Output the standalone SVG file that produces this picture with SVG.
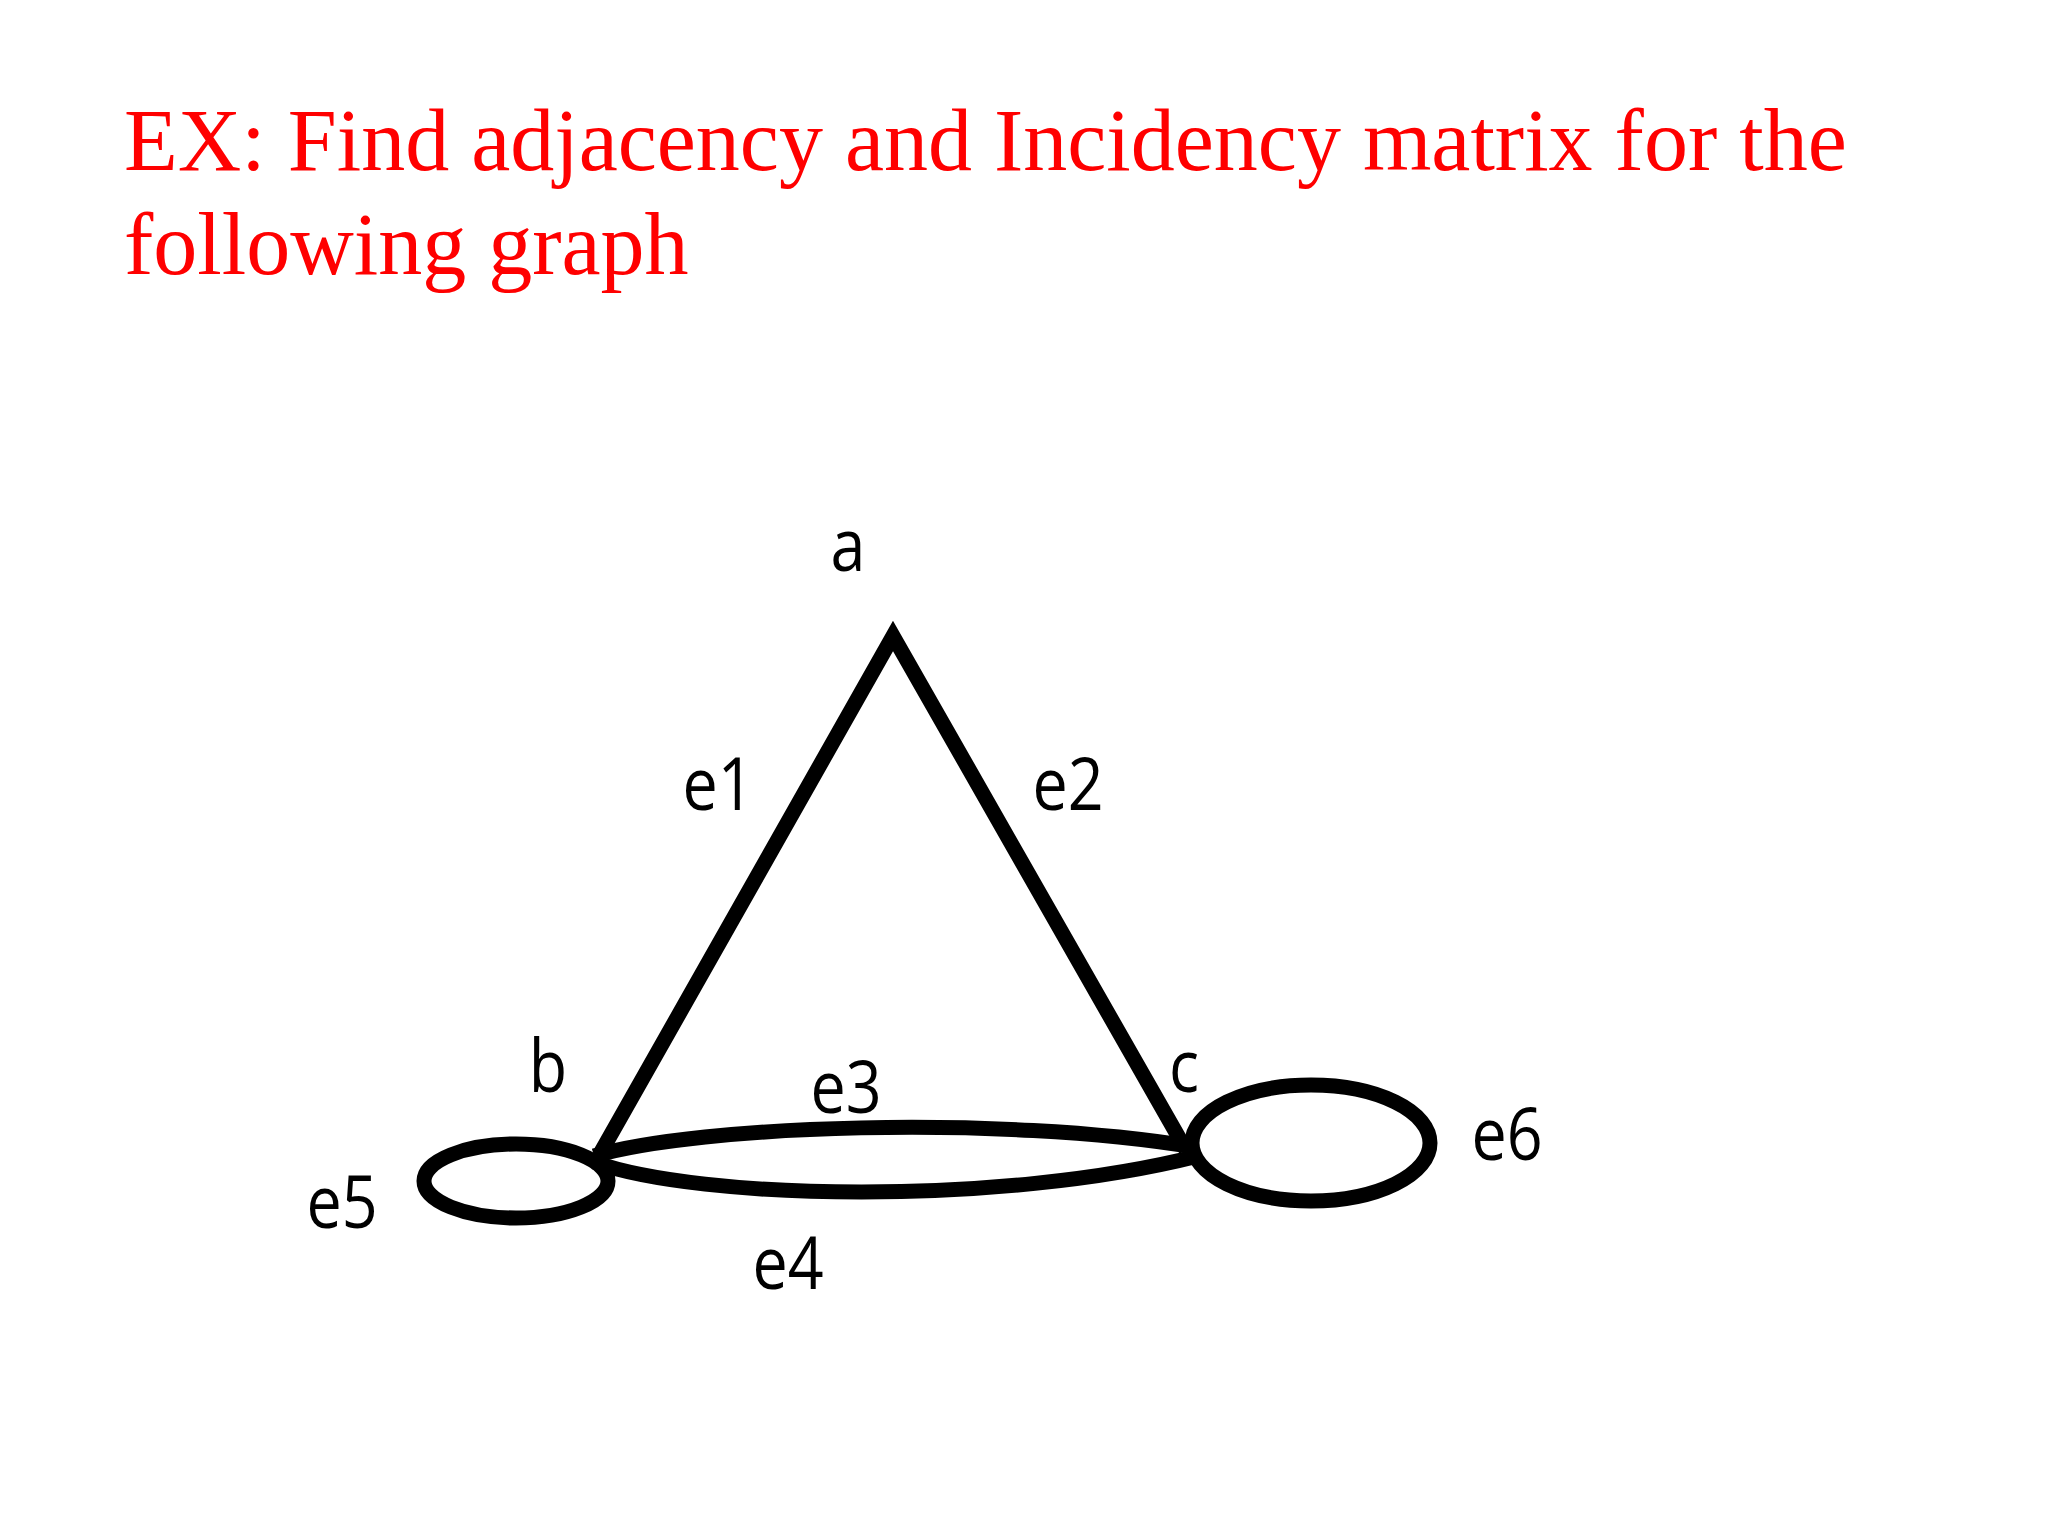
<svg xmlns="http://www.w3.org/2000/svg" width="2048" height="1536" viewBox="0 0 2048 1536">
<style>
.title{font-family:"Liberation Serif","Times New Roman",serif;font-size:88px;fill:#ff0000}
.lbl{font-family:"Open Sans","Noto Sans","Liberation Sans",sans-serif;font-size:73px;fill:#000;text-anchor:middle}
.edge{fill:none;stroke:#000;stroke-width:15;stroke-linejoin:miter;stroke-miterlimit:10;stroke-linecap:butt}
</style>
<rect width="2048" height="1536" fill="#ffffff"/>
<g id="title">
<text class="title" x="124" y="170">EX: Find adjacency and Incidency matrix for the</text>
<text class="title" x="124" y="274">following graph</text>
</g>
<g id="connectors">
<path id="e1-e2" class="edge" d="M601 1152 L893 636 L1186 1150"/>
<path id="e3" class="edge" stroke-width="16" d="M594 1156 C700 1125 1000 1115 1194 1147"/>
<path id="e4" class="edge" stroke-width="16" d="M594 1162 C700 1200 1000 1206 1198 1156"/>
<ellipse id="e5" class="edge" stroke-width="13" cx="516" cy="1181" rx="92" ry="37"/>
<ellipse id="e6" class="edge" stroke-width="15" cx="1311" cy="1143" rx="119" ry="58"/>
</g>
<g id="node-a"><text class="lbl" transform="translate(848 571) scale(0.86 1)">a</text></g>
<g id="node-b"><text class="lbl" transform="translate(548 1092) scale(0.86 1)">b</text></g>
<g id="node-c"><text class="lbl" transform="translate(1184 1092) scale(0.86 1)">c</text></g>
<g id="labels">
<text class="lbl" transform="translate(718 810) scale(0.86 1)">e1</text>
<text class="lbl" transform="translate(1068 810) scale(0.86 1)">e2</text>
<text class="lbl" transform="translate(846 1113) scale(0.86 1)">e3</text>
<text class="lbl" transform="translate(788 1289) scale(0.86 1)">e4</text>
<text class="lbl" transform="translate(342 1228) scale(0.86 1)">e5</text>
<text class="lbl" transform="translate(1507 1160) scale(0.86 1)">e6</text>
</g>
</svg>
